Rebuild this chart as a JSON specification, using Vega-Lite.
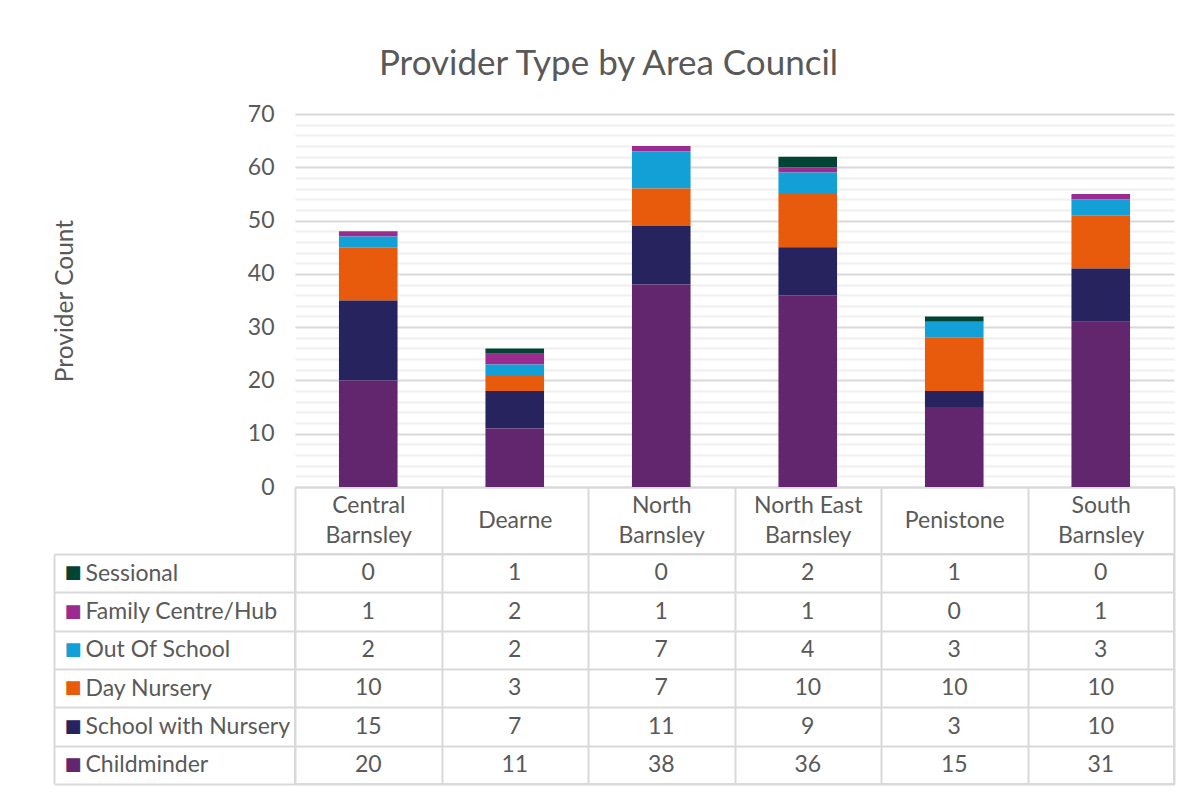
{
  "$schema": "https://vega.github.io/schema/vega-lite/v6.json",
  "autosize": {"type": "pad"},
  "padding": {"left": 52, "top": 47, "right": 12, "bottom": 4},
  "background": "white",
  "title": {
    "text": "Provider Type by Area Council",
    "font": "Lato",
    "fontSize": 35,
    "fontWeight": "normal",
    "color": "#595959",
    "anchor": "middle",
    "frame": "bounds",
    "offset": 21,
    "dx": -5
  },
  "config": {
    "font": "Lato",
    "view": {"stroke": null},
    "axis": {"labelFont": "Lato", "titleFont": "Lato", "labelLimit": 0}
  },
  "datasets": {
    "typeOrder": [
      {"type": "Childminder", "rank": 1},
      {"type": "School with Nursery", "rank": 2},
      {"type": "Day Nursery", "rank": 3},
      {"type": "Out Of School", "rank": 4},
      {"type": "Family Centre/Hub", "rank": 5},
      {"type": "Sessional", "rank": 6}
    ],
    "counts": [
      {"area": "Central Barnsley", "type": "Sessional", "count": 0},
      {"area": "Central Barnsley", "type": "Family Centre/Hub", "count": 1},
      {"area": "Central Barnsley", "type": "Out Of School", "count": 2},
      {"area": "Central Barnsley", "type": "Day Nursery", "count": 10},
      {"area": "Central Barnsley", "type": "School with Nursery", "count": 15},
      {"area": "Central Barnsley", "type": "Childminder", "count": 20},
      {"area": "Dearne", "type": "Sessional", "count": 1},
      {"area": "Dearne", "type": "Family Centre/Hub", "count": 2},
      {"area": "Dearne", "type": "Out Of School", "count": 2},
      {"area": "Dearne", "type": "Day Nursery", "count": 3},
      {"area": "Dearne", "type": "School with Nursery", "count": 7},
      {"area": "Dearne", "type": "Childminder", "count": 11},
      {"area": "North Barnsley", "type": "Sessional", "count": 0},
      {"area": "North Barnsley", "type": "Family Centre/Hub", "count": 1},
      {"area": "North Barnsley", "type": "Out Of School", "count": 7},
      {"area": "North Barnsley", "type": "Day Nursery", "count": 7},
      {"area": "North Barnsley", "type": "School with Nursery", "count": 11},
      {"area": "North Barnsley", "type": "Childminder", "count": 38},
      {"area": "North East Barnsley", "type": "Sessional", "count": 2},
      {"area": "North East Barnsley", "type": "Family Centre/Hub", "count": 1},
      {"area": "North East Barnsley", "type": "Out Of School", "count": 4},
      {"area": "North East Barnsley", "type": "Day Nursery", "count": 10},
      {"area": "North East Barnsley", "type": "School with Nursery", "count": 9},
      {"area": "North East Barnsley", "type": "Childminder", "count": 36},
      {"area": "Penistone", "type": "Sessional", "count": 1},
      {"area": "Penistone", "type": "Family Centre/Hub", "count": 0},
      {"area": "Penistone", "type": "Out Of School", "count": 3},
      {"area": "Penistone", "type": "Day Nursery", "count": 10},
      {"area": "Penistone", "type": "School with Nursery", "count": 3},
      {"area": "Penistone", "type": "Childminder", "count": 15},
      {"area": "South Barnsley", "type": "Sessional", "count": 0},
      {"area": "South Barnsley", "type": "Family Centre/Hub", "count": 1},
      {"area": "South Barnsley", "type": "Out Of School", "count": 3},
      {"area": "South Barnsley", "type": "Day Nursery", "count": 10},
      {"area": "South Barnsley", "type": "School with Nursery", "count": 10},
      {"area": "South Barnsley", "type": "Childminder", "count": 31}
    ]
  },
  "bounds": "flush",
  "spacing": 67,
  "vconcat": [
    {
      "width": 879,
      "height": 373,
      "data": {"name": "counts"},
      "transform": [
        {"lookup": "type", "from": {"data": {"name": "typeOrder"}, "key": "type", "fields": ["rank"]}}
      ],
      "mark": {"type": "bar", "width": {"band": 0.4}},
      "encoding": {
        "x": {
          "field": "area",
          "type": "nominal",
          "sort": ["Central Barnsley", "Dearne", "North Barnsley", "North East Barnsley", "Penistone", "South Barnsley"],
          "scale": {"paddingInner": 0, "paddingOuter": 0},
          "axis": {
            "title": null,
            "labelAngle": 0,
            "labelExpr": "datum.label == 'North East Barnsley' ? ['North East', 'Barnsley'] : split(datum.label, ' ')",
            "labelFontSize": 23,
            "labelColor": "#595959",
            "labelBaseline": "middle",
            "labelLineHeight": 30,
            "labelPadding": {"condition": {"test": "datum.value === 'Dearne' || datum.value === 'Penistone'", "value": -34}, "value": -49},
            "ticks": true,
            "tickSize": 67,
            "tickBand": "extent",
            "tickColor": "#d9d9d9",
            "tickWidth": 2,
            "domain": true,
            "domainColor": "#d9d9d9",
            "domainWidth": 2,
            "grid": false
          }
        },
        "y": {
          "aggregate": "sum",
          "field": "count",
          "type": "quantitative",
          "stack": "zero",
          "scale": {"domain": [0, 70], "nice": false},
          "axis": {
            "title": "Provider Count",
            "titleFontSize": 24.5,
            "titleFontWeight": "normal",
            "titleColor": "#595959",
            "titlePadding": 170,
            "values": [0, 2, 4, 6, 8, 10, 12, 14, 16, 18, 20, 22, 24, 26, 28, 30, 32, 34, 36, 38, 40, 42, 44, 46, 48, 50, 52, 54, 56, 58, 60, 62, 64, 66, 68, 70],
            "labelExpr": "datum.value % 10 === 0 ? datum.label : ''",
            "labelFontSize": 23,
            "labelColor": "#595959",
            "labelPadding": 21,
            "ticks": false,
            "domain": false,
            "grid": true,
            "gridWidth": 2,
            "gridColor": {"condition": {"test": "datum.value % 10 === 0", "value": "#d9d9d9"}, "value": "#f0f0f0"}
          }
        },
        "color": {
          "field": "type",
          "type": "nominal",
          "scale": {
            "domain": ["Childminder", "School with Nursery", "Day Nursery", "Out Of School", "Family Centre/Hub", "Sessional"],
            "range": ["#62266f", "#27235f", "#e85b0d", "#12a0d7", "#9b2b8f", "#014433"]
          },
          "legend": null
        },
        "order": {"field": "rank", "type": "quantitative", "sort": "ascending"}
      }
    },
    {
      "width": 879,
      "height": 230,
      "data": {"name": "counts"},
      "view": {"stroke": "#d9d9d9", "strokeWidth": 2},
      "resolve": {"axis": {"y": "independent"}},
      "layer": [
        {
          "mark": {"type": "text", "fontSize": 23, "color": "#595959", "baseline": "middle", "align": "center"},
          "encoding": {
            "x": {
              "field": "area",
              "type": "nominal",
              "sort": ["Central Barnsley", "Dearne", "North Barnsley", "North East Barnsley", "Penistone", "South Barnsley"],
              "scale": {"paddingInner": 0, "paddingOuter": 0},
              "axis": {
                "title": null,
                "labels": false,
                "ticks": false,
                "domain": false,
                "grid": true,
                "tickBand": "extent",
                "gridColor": "#d9d9d9",
                "gridWidth": 2
              }
            },
            "y": {
              "field": "type",
              "type": "nominal",
              "sort": ["Sessional", "Family Centre/Hub", "Out Of School", "Day Nursery", "School with Nursery", "Childminder"],
              "scale": {"paddingInner": 0, "paddingOuter": 0},
              "axis": {
                "orient": "left",
                "title": null,
                "labelAlign": "left",
                "labelBaseline": "middle",
                "labelPadding": -31,
                "labelFontSize": 23,
                "labelColor": "#595959",
                "ticks": true,
                "tickSize": 241,
                "tickBand": "extent",
                "tickColor": "#d9d9d9",
                "tickWidth": 2,
                "grid": true,
                "gridColor": "#d9d9d9",
                "gridWidth": 2,
                "domain": false
              }
            },
            "text": {"field": "count", "type": "quantitative"}
          }
        },
        {
          "mark": {"type": "text", "opacity": 0},
          "encoding": {
            "y": {
              "field": "type",
              "type": "nominal",
              "sort": ["Sessional", "Family Centre/Hub", "Out Of School", "Day Nursery", "School with Nursery", "Childminder"],
              "axis": {
                "orient": "left",
                "offset": 241,
                "title": null,
                "labelExpr": "'■'",
                "labelFont": "DejaVu Sans",
                "labelFontSize": 18,
                "labelAlign": "left",
                "labelBaseline": "middle",
                "labelPadding": -10,
                "labelColor": {
                  "condition": [
                    {"test": "datum.value === 'Sessional'", "value": "#014433"},
                    {"test": "datum.value === 'Family Centre/Hub'", "value": "#9b2b8f"},
                    {"test": "datum.value === 'Out Of School'", "value": "#12a0d7"},
                    {"test": "datum.value === 'Day Nursery'", "value": "#e85b0d"},
                    {"test": "datum.value === 'School with Nursery'", "value": "#27235f"}
                  ],
                  "value": "#62266f"
                },
                "ticks": false,
                "tickSize": 0,
                "grid": false,
                "domain": true,
                "domainColor": "#d9d9d9",
                "domainWidth": 2
              }
            },
            "text": {"field": "count", "type": "quantitative"}
          }
        }
      ]
    }
  ]
}
